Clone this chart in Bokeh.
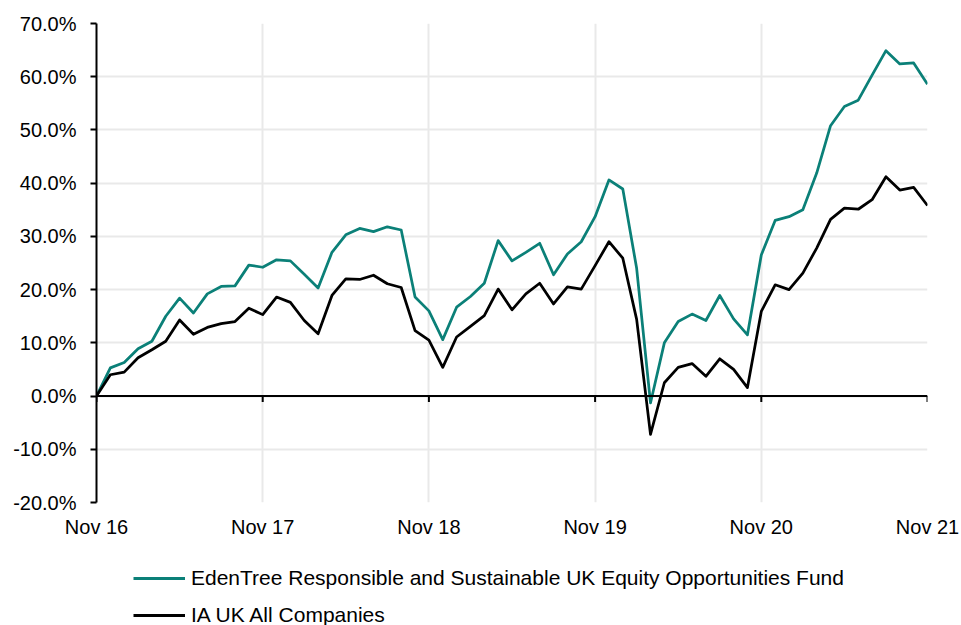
from bokeh.plotting import figure
from bokeh.models import FixedTicker, Span, Legend, LegendItem
from bokeh.layouts import column
from bokeh.embed import file_html
from bokeh.resources import INLINE

# ---- data (cumulative performance, %) ----
months = list(range(61))  # Nov 16 .. Nov 21, monthly
fund = [0, 5.3, 6.3, 8.9, 10.3, 15.0, 18.4, 15.6, 19.2, 20.6, 20.7, 24.6, 24.2,
        25.6, 25.4, 22.9, 20.3, 27.0, 30.3, 31.5, 30.9, 31.8, 31.2, 18.6, 16.0,
        10.6, 16.7, 18.7, 21.2, 29.2, 25.4, 27.0, 28.7, 22.8, 26.7, 29.0, 33.7,
        40.6, 38.9, 24.0, -1.3, 10.0, 14.0, 15.4, 14.2, 18.9, 14.5, 11.5, 26.5,
        33.0, 33.7, 35.0, 41.9, 50.8, 54.4, 55.6, 60.3, 64.9, 62.4, 62.6, 58.6]
sector = [0, 4.0, 4.5, 7.2, 8.7, 10.3, 14.3, 11.6, 12.9, 13.6, 14.0, 16.5, 15.3,
          18.6, 17.6, 14.2, 11.7, 18.9, 22.0, 21.9, 22.7, 21.1, 20.4, 12.3, 10.5,
          5.4, 11.1, 13.1, 15.1, 20.1, 16.2, 19.2, 21.2, 17.3, 20.5, 20.1, 24.5,
          29.0, 25.9, 14.4, -7.2, 2.5, 5.4, 6.1, 3.7, 7.0, 5.0, 1.6, 15.9,
          20.9, 20.0, 23.1, 27.8, 33.2, 35.3, 35.1, 36.9, 41.2, 38.7, 39.2, 35.8]
series_names = ["EdenTree Responsible and Sustainable UK Equity Opportunities Fund",
                "IA UK All Companies"]
x_ticks = [0, 12, 24, 36, 48, 60]
x_tick_labels = ["Nov 16", "Nov 17", "Nov 18", "Nov 19", "Nov 20", "Nov 21"]
y_ticks = [-20, -10, 0, 10, 20, 30, 40, 50, 60, 70]
y_tick_labels = ["-20.0%", "-10.0%", "0.0%", "10.0%", "20.0%", "30.0%",
                 "40.0%", "50.0%", "60.0%", "70.0%"]

TEAL = "#0B8078"
FONT = "Liberation Sans"
LW = 2.75

p = figure(frame_width=831, frame_height=479,
           x_range=(0, 60), y_range=(-20, 70),
           output_backend="svg", toolbar_location=None,
           min_border_left=96, min_border_top=23, min_border_right=34,
           min_border_bottom=43)
p.outline_line_color = None
p.background_fill_color = "white"

# grids
p.xgrid.ticker = FixedTicker(ticks=x_ticks)
p.ygrid.ticker = FixedTicker(ticks=y_ticks)
for g in (p.xgrid, p.ygrid):
    g.grid_line_color = "#e9e9e9"
    g.grid_line_width = 2

# x axis: labels only at the bottom
p.xaxis.ticker = FixedTicker(ticks=x_ticks)
p.xaxis.major_label_overrides = {t: l for t, l in zip(x_ticks, x_tick_labels)}
p.xaxis.axis_line_color = None
p.xaxis.major_tick_line_color = None
p.xaxis.minor_tick_line_color = None
p.xaxis.major_label_standoff = 7
p.xaxis.major_label_text_font = FONT
p.xaxis.major_label_text_font_size = "20px"
p.xaxis.major_label_text_color = "black"

# y axis
p.yaxis.ticker = FixedTicker(ticks=y_ticks)
p.yaxis.major_label_overrides = {t: l for t, l in zip(y_ticks, y_tick_labels)}
p.yaxis.axis_line_color = "black"
p.yaxis.axis_line_width = 2
p.yaxis.major_tick_line_color = "black"
p.yaxis.major_tick_line_width = 2
p.yaxis.major_tick_out = 6
p.yaxis.major_tick_in = 0
p.yaxis.minor_tick_line_color = None
p.yaxis.major_label_standoff = 14
p.yaxis.major_label_text_font = FONT
p.yaxis.major_label_text_font_size = "20px"
p.yaxis.major_label_text_color = "black"

# zero line with downward tick marks
p.add_layout(Span(location=0, dimension="width", line_color="black", line_width=2))
p.segment(x0=x_ticks, y0=[0] * len(x_ticks), x1=x_ticks, y1=[-1.1] * len(x_ticks),
          line_color="black", line_width=2)

r1 = p.line(months, fund, line_color=TEAL, line_width=LW, line_join="round")
r2 = p.line(months, sector, line_color="black", line_width=LW, line_join="round")

# legend strip below the chart (proxy renderers hidden, only used for swatches)
lf = figure(frame_width=961, frame_height=80, min_border=0,
            x_axis_location=None, y_axis_location=None,
            output_backend="svg", toolbar_location=None)
lf.outline_line_color = None
lf.grid.visible = False
l1 = lf.line(months, fund, line_color=TEAL, line_width=3, visible=False)
l2 = lf.line(months, sector, line_color="black", line_width=3, visible=False)

legend = Legend(items=[LegendItem(label=series_names[0], renderers=[l1]),
                       LegendItem(label=series_names[1], renderers=[l2])],
                location=(133, -2), orientation="vertical",
                padding=0, margin=0, spacing=13,
                glyph_width=52, glyph_height=24, label_height=24,
                label_standoff=6,
                label_text_font=FONT, label_text_font_size="21px",
                label_text_color="black",
                border_line_color=None, background_fill_alpha=0)
lf.add_layout(legend, "center")

layout = column(p, lf, spacing=0)
open("out.html", "w").write(file_html(layout, INLINE))
